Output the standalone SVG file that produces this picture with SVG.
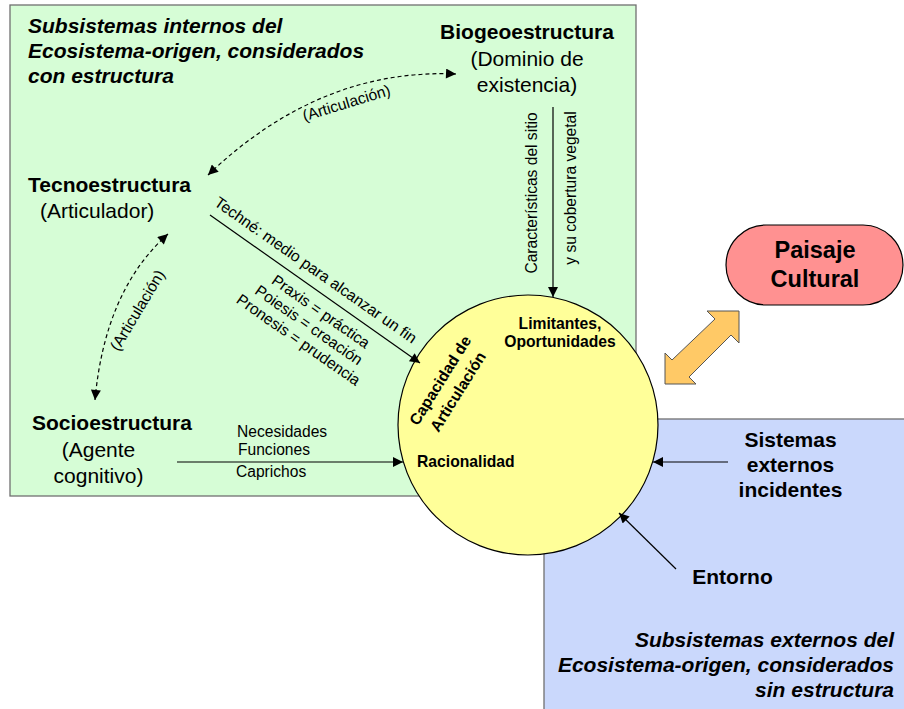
<svg xmlns="http://www.w3.org/2000/svg" width="904" height="709" viewBox="0 0 904 709">
<style>
text{font-family:"Liberation Sans",Arial,sans-serif;fill:#000}
.h{font-size:21px;font-weight:bold}
.n{font-size:21px}
.t{font-size:21px;font-weight:bold;font-style:italic}
.s{font-size:15.6px}
.c{font-size:15.7px;font-weight:bold}
.m{text-anchor:middle}
.e{text-anchor:end}
.ln{stroke:#000;stroke-width:1.2;fill:none}
.dl{stroke:#000;stroke-width:1.2;fill:none;stroke-dasharray:4 3}
</style>
<defs>
<marker id="ah" viewBox="0 0 10 10" refX="10" refY="5" markerWidth="13" markerHeight="10" markerUnits="userSpaceOnUse" orient="auto-start-reverse">
<path d="M0,0 L10,5 L0,10 z" fill="#000" stroke="none"/>
</marker>
</defs>
<g id="internos">
<rect x="10" y="5" width="626" height="491" fill="#D6FDD6" stroke="#707070" stroke-width="1.3"/>
<text class="t" x="28" y="33">Subsistemas internos del</text>
<text class="t" x="28" y="58">Ecosistema-origen, considerados</text>
<text class="t" x="28" y="83">con estructura</text>
</g>
<g id="externos">
<rect x="544" y="419" width="364" height="295" fill="#CAD8FC" stroke="#707070" stroke-width="1.3"/>
<text class="t e" x="894" y="647">Subsistemas externos del</text>
<text class="t e" x="894" y="672">Ecosistema-origen, considerados</text>
<text class="t e" x="894" y="697">sin estructura</text>
</g>
<g id="biogeoestructura">
<text class="h m" x="527" y="39">Biogeoestructura</text>
<text class="n m" x="527" y="66">(Dominio de</text>
<text class="n m" x="527" y="92">existencia)</text>
</g>
<g id="tecnoestructura">
<text class="h" x="28" y="192">Tecnoestructura</text>
<text class="n" x="40" y="218">(Articulador)</text>
</g>
<g id="socioestructura">
<text class="h" x="32" y="430">Socioestructura</text>
<text class="n m" x="98.5" y="457">(Agente</text>
<text class="n m" x="98.5" y="483">cognitivo)</text>
</g>
<g id="capacidad">
<circle cx="528" cy="425" r="130" fill="#FFFF99" stroke="#000" stroke-width="1.2"/>
<text class="c m" x="560" y="329">Limitantes,</text>
<text class="c m" x="560" y="347">Oportunidades</text>
<g transform="translate(449,386) rotate(-58)">
<text class="c m" x="0" y="-5">Capacidad de</text>
<text class="c m" x="0" y="16">Articulación</text>
</g>
<text class="c" x="417" y="467">Racionalidad</text>
</g>
<g id="paisaje">
<rect x="726" y="225" width="177" height="80" rx="40" ry="40" fill="#FF9191" stroke="#000" stroke-width="1.2"/>
<text class="m" x="815" y="258" style="font-size:23.5px;font-weight:bold">Paisaje</text>
<text class="m" x="815" y="287" style="font-size:23.5px;font-weight:bold">Cultural</text>
</g>
<g id="sistemas">
<text class="h m" x="790.5" y="447">Sistemas</text>
<text class="h m" x="790.5" y="472">externos</text>
<text class="h m" x="790.5" y="497">incidentes</text>
</g>
<g id="entorno">
<text class="h m" x="732.5" y="584">Entorno</text>
</g>
<g id="connectors">
<path class="dl" d="M208,175 Q320,68 456,74" marker-start="url(#ah)" marker-end="url(#ah)"/>
<path class="dl" d="M168,234 Q105,290 95,400" marker-start="url(#ah)" marker-end="url(#ah)"/>
<path class="ln" d="M210,215 L420,363" marker-end="url(#ah)"/>
<path class="ln" d="M177,462 L403,462" marker-end="url(#ah)"/>
<path class="ln" d="M553,107 L553,297" marker-end="url(#ah)"/>
<path class="ln" d="M728,462 L653,462" marker-end="url(#ah)"/>
<path class="ln" d="M676,569 L619,513" marker-end="url(#ah)"/>
<polygon points="665,384 665,353 672,360 715,319 707,311 739,311 739,343 731,335 689,377 696,384" fill="#FFC966" stroke="#555" stroke-width="1"/>
<g transform="translate(348,108) rotate(-17)"><text class="s m" x="0" y="0">(Articulación)</text></g>
<g transform="translate(142,313) rotate(-59)"><text class="s m" x="0" y="0">(Articulación)</text></g>
<g transform="translate(537,193) rotate(-90)"><text class="s m" x="0" y="0">Características del sitio</text></g>
<g transform="translate(576,188) rotate(-90)"><text class="s m" x="0" y="0">y su cobertura vegetal</text></g>
<g transform="translate(318,272) rotate(35)">
<text class="s m" x="-3" y="5">Techné: medio para alcanzar un fin</text>
<text class="s m" x="25" y="36">Praxis = práctica</text>
<text class="s m" x="23" y="54">Poiesis = creación</text>
<text class="s m" x="23" y="72">Pronesis = prudencia</text>
</g>
<text class="s" x="237" y="437">Necesidades</text>
<text class="s" x="238" y="455">Funciones</text>
<text class="s" x="236" y="477">Caprichos</text>
</g>
</svg>
